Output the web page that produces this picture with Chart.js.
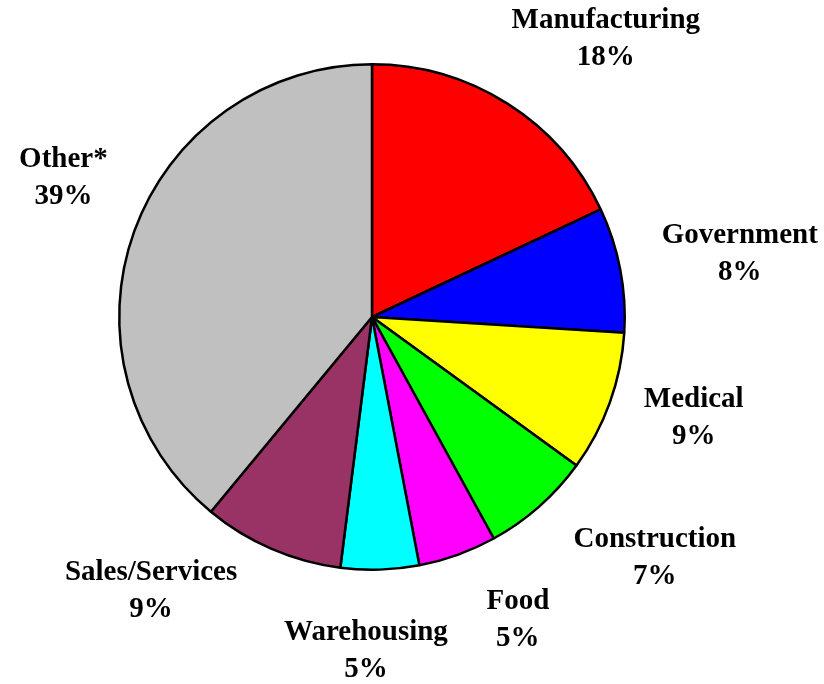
<!DOCTYPE html>
<html>
<head>
<meta charset="utf-8">
<script src="https://cdn.jsdelivr.net/npm/chart.js@4"></script>
<style>
  html, body { margin: 0; padding: 0; background: #fff; }
  #wrap { width: 824px; height: 684px; }
</style>
</head>
<body>
<div id="wrap"><canvas id="pie" width="824" height="684"></canvas></div>
<script>
var categories = ["Manufacturing", "Government", "Medical", "Construction", "Food", "Warehousing", "Sales/Services", "Other*"];
var shares = [18, 8, 9, 7, 5, 5, 9, 39];
var sliceColors = ["#FF0000", "#0000FF", "#FFFF00", "#00FF00", "#FF00FF", "#00FFFF", "#993366", "#C0C0C0"];

// label block centre relative to pie centre, in pie radii
var labelDx = [0.925, 1.455, 1.273, 1.119, 0.577, -0.024, -0.874, -1.221];
var labelDy = [-1.100, -0.250, 0.398, 0.952, 1.197, 1.321, 1.086, -0.550];

var pieLabels = {
  id: "pieLabels",
  afterDraw: function (chart) {
    var ctx = chart.ctx;
    var arcs = chart.getDatasetMeta(0).data;
    ctx.save();
    ctx.fillStyle = "#000";
    ctx.font = "bold 29px 'Liberation Serif', 'Times New Roman', serif";
    ctx.textAlign = "center";
    ctx.textBaseline = "middle";
    arcs.forEach(function (arc, i) {
      var r = arc.outerRadius;
      var x = arc.x + labelDx[i] * r;
      var y = arc.y + labelDy[i] * r;
      ctx.fillText(categories[i], x, y - 18.5);
      ctx.fillText(shares[i] + "%", x, y + 18.5);
    });
    ctx.restore();
  }
};

var graph = new Chart(document.getElementById("pie").getContext("2d"), {
  type: "pie",
  data: {
    labels: categories,
    datasets: [{
      data: shares,
      backgroundColor: sliceColors,
      borderColor: "#000",
      borderWidth: 2.5
    }]
  },
  options: {
    responsive: false,
    animation: false,
    layout: { padding: { left: 118, top: 63, right: 198, bottom: 113 } },
    plugins: {
      legend: { display: false },
      tooltip: { enabled: false }
    }
  },
  plugins: [pieLabels]
});
</script>
</body>
</html>
